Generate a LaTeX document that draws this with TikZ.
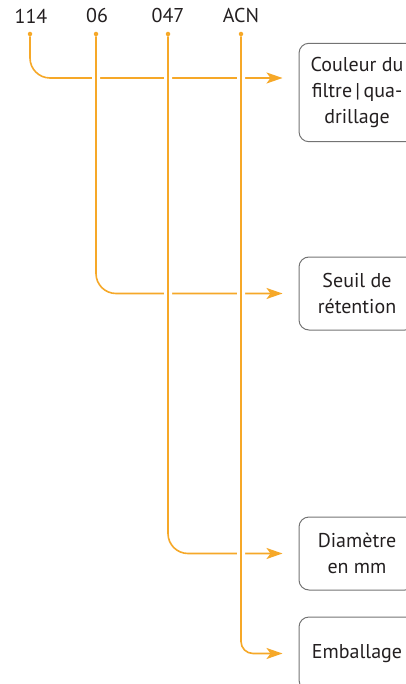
\documentclass[tikz,border=0pt]{standalone}
\usepackage{fontspec}
\setmainfont{PT Sans}
\usetikzlibrary{arrows.meta}
\definecolor{O1}{RGB}{246,168,40}
\definecolor{G1}{RGB}{115,115,115}
\definecolor{T1}{RGB}{35,31,32}
\tikzset{
  code/.style={text=T1, font=\fontsize{20}{26}\selectfont, inner sep=0pt},
  dot/.style={circle, fill=O1, inner sep=0pt, minimum size=4.5pt},
  legend/.style={draw=G1, line width=1pt, rounded corners=10pt, text=T1,
                 font=\fontsize{20}{26}\selectfont, align=center,
                 minimum width=116pt, minimum height=73pt,
                 inner xsep=4pt, inner ysep=14pt},
  link/.style={O1, line width=1.6pt, rounded corners=20pt,
               -{Stealth[length=16pt,width=11pt,inset=4pt]}, shorten >=16pt,
               preaction={draw=white, line width=8pt, -}},
}
\begin{document}
\begin{tikzpicture}[x=1pt,y=-1pt]
      \useasboundingbox (0,0) rectangle (406,684);
      \clip (0,0) rectangle (406,684);
      \node[code] (c1) at (31,16)  {114};
      \node[code] (c2) at (97,16)  {06};
      \node[code] (c3) at (168,16) {047};
      \node[code] (c4) at (241,16) {ACN};
      \node[dot] (d1) at (30,34)  {};
      \node[dot] (d2) at (96,34)  {};
      \node[dot] (d3) at (168,34) {};
      \node[dot] (d4) at (241,34) {};
      \node[legend] (b1) at (357,92.5)  {Couleur du\\filtre\thinspace|\thinspace qua-\\drillage};
      \node[legend] (b2) at (357,293.5) {Seuil de\\rétention};
      \node[legend] (b3) at (357,553.5) {Diamètre\\en mm};
      \node[legend] (b4) at (357,653.5) {Emballage};
      \draw[link] (d1) |- ([yshift=14.5pt]b1.west);
      \draw[link] (d2) |- (b2);
      \draw[link] (d3) |- (b3);
      \draw[link, rounded corners=12pt] (d4) |- (b4);
\end{tikzpicture}
\end{document}
